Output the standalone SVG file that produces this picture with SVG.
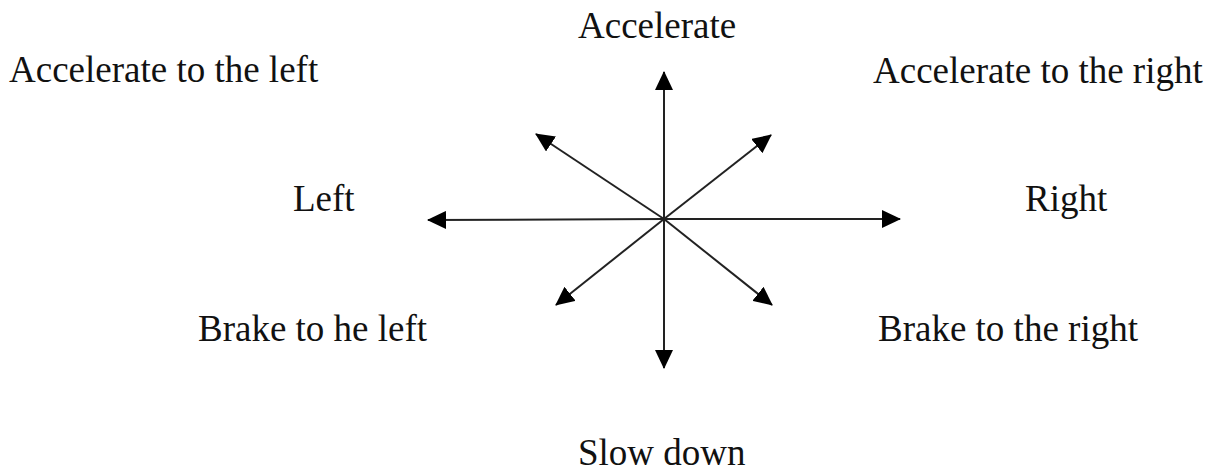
<svg xmlns="http://www.w3.org/2000/svg" width="1211" height="471" viewBox="0 0 1211 471">
<style>
text{font-family:"Liberation Serif","Times New Roman",serif;font-size:37px;fill:#111}
.c line{stroke:#222;stroke-width:2;marker-end:url(#ah)}
</style>
<defs>
<marker id="ah" markerUnits="userSpaceOnUse" markerWidth="20" markerHeight="18" refX="18" refY="9" orient="auto">
<path d="M0,0 L19,9 L0,18 Z" fill="#000"/>
</marker>
</defs>
<rect width="1211" height="471" fill="#fff"/>
<g id="connectors" class="c">
<line x1="664" y1="219" x2="664" y2="72"/>
<line x1="664" y1="219" x2="664" y2="368"/>
<line x1="664" y1="219" x2="428" y2="220"/>
<line x1="664" y1="219" x2="900" y2="219"/>
<line x1="664" y1="219" x2="536" y2="134"/>
<line x1="664" y1="219" x2="771" y2="135"/>
<line x1="664" y1="219" x2="556" y2="305"/>
<line x1="664" y1="219" x2="772" y2="305"/>
</g>
<g id="accelerate"><text x="578" y="38">Accelerate</text></g>
<g id="acc-left"><text x="9" y="82">Accelerate to the left</text></g>
<g id="acc-right"><text x="873" y="83">Accelerate to the right</text></g>
<g id="left"><text x="293" y="211">Left</text></g>
<g id="right"><text x="1025" y="211">Right</text></g>
<g id="brake-left"><text x="198" y="341">Brake to he left</text></g>
<g id="brake-right"><text x="878" y="341">Brake to the right</text></g>
<g id="slow"><text x="578" y="465">Slow down</text></g>
</svg>
